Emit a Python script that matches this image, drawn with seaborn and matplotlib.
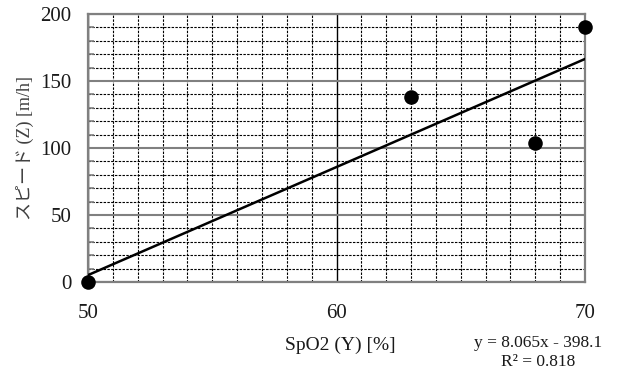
import matplotlib
matplotlib.use("Agg")
import matplotlib.pyplot as plt
import seaborn as sns
import numpy as np
import pandas as pd
from matplotlib.ticker import MultipleLocator

# Measurements: SpO2 vs. speed
spo2 = [50, 63, 68, 70]
speed = [0, 138, 104, 190]

# Linear trend line (as reported by the fit)
slope = 8.065
intercept = -398.1
r_squared = 0.818
trend_x = [50, 70]

x_ticks = [50, 60, 70]
y_ticks = [0, 50, 100, 150, 200]

sns.set_theme(style="white")
plt.rcParams["font.family"] = ["Liberation Serif", "Noto Sans CJK JP"]

df = pd.DataFrame({"x": spo2, "y": speed})
trend = pd.DataFrame({"x": trend_x,
                      "y": [slope * v + intercept for v in trend_x]})

fig = plt.figure(figsize=(6.17, 3.71), dpi=100)
ax = fig.add_axes([88 / 617, 1 - 282 / 371, 497 / 617, 268 / 371])

ax.set_xlim(50, 70)
ax.set_ylim(0, 200)
ax.set_xticks(x_ticks)
ax.set_yticks(y_ticks)
ax.xaxis.set_minor_locator(MultipleLocator(1))
ax.yaxis.set_minor_locator(MultipleLocator(10))

# grid: dashed minor lines, solid major lines
ax.grid(which="minor", axis="both", color="black", linestyle=(0, (2.2, 1.2)),
        linewidth=0.8)
ax.grid(which="major", axis="y", color="#808080", linestyle="-", linewidth=1.5)
ax.grid(which="major", axis="x", color="black", linestyle="-", linewidth=1.0)
ax.set_axisbelow(True)

sns.lineplot(data=trend, x="x", y="y", ax=ax, color="black", linewidth=1.8,
             zorder=3)
sns.scatterplot(data=df, x="x", y="y", ax=ax, color="black", s=110,
                edgecolor="black", linewidth=0, zorder=4, clip_on=False)

for side in ["left", "bottom", "right", "top"]:
    ax.spines[side].set_color("#808080")
    ax.spines[side].set_linewidth(1.6)

ax.tick_params(axis="both", which="major", length=0, labelsize=15,
               labelcolor="#1a1a1a")
ax.tick_params(axis="x", which="major", pad=16)
ax.tick_params(axis="y", which="major", pad=12)
ax.tick_params(axis="y", which="minor", direction="in", length=4,
               color="#808080", width=1.2, left=True)
ax.tick_params(axis="x", which="minor", length=0)

ax.set_xlabel("")
ax.set_ylabel("スピード (Z) [m/h]", fontsize=13, color="#404040")
ax.yaxis.set_label_coords(-0.108, 0.5)

fig.text(340 / 617, 1 - 345 / 371, "SpO2 (Y) [%]", fontsize=14,
         ha="center", va="center", color="#1a1a1a")
fig.text(538 / 617, 1 - 343 / 371,
         f"y = {slope:.3f}x - {abs(intercept):.1f}", fontsize=12.5,
         ha="center", va="center", color="#1a1a1a")
fig.text(538 / 617, 1 - 362 / 371, f"R² = {r_squared:.3f}", fontsize=12.5,
         ha="center", va="center", color="#1a1a1a")

fig.savefig("out.png", dpi=100)
